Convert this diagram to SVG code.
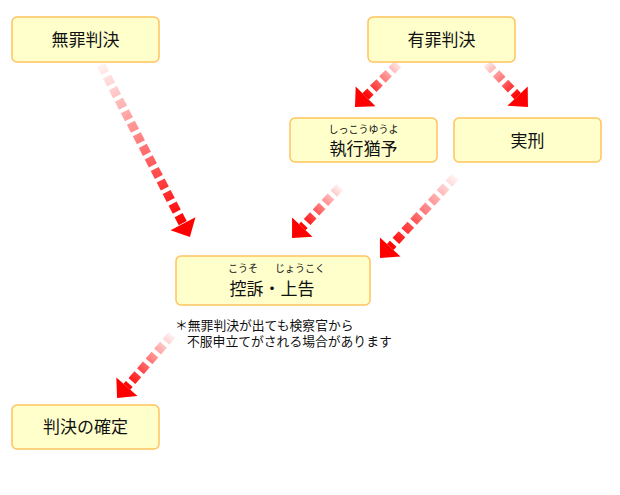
<svg xmlns="http://www.w3.org/2000/svg" width="620" height="495" viewBox="0 0 620 495">
<style>
.box{fill:#ffffcc;stroke:#ffc35e;stroke-width:1.5}
.lbl{font-family:"Noto Sans CJK JP","Noto Sans",sans-serif;font-size:17px;fill:#111;text-anchor:middle}
.rb{font-family:"Noto Sans CJK JP","Noto Sans",sans-serif;font-size:10px;fill:#111;text-anchor:middle}
.note{font-family:"Noto Sans CJK JP","Noto Sans",sans-serif;font-size:12.8px;fill:#111}
.arr{fill:none;stroke-width:9;stroke-dasharray:9 4;marker-end:url(#ah)}
</style>
<defs>
<marker id="ah" markerUnits="userSpaceOnUse" markerWidth="16" markerHeight="30" viewBox="0 -15 16 30" refX="0" refY="0" orient="auto" overflow="visible">
<path d="M0,-14 L15,0 L0,14 z" fill="#ff0000"/>
</marker>
<linearGradient id="g1" gradientUnits="userSpaceOnUse" x1="101" y1="65" x2="183" y2="223.7"><stop offset="0" stop-color="#ff0000" stop-opacity="0.05"/><stop offset="1" stop-color="#ff0000" stop-opacity="1"/></linearGradient>
<linearGradient id="g2" gradientUnits="userSpaceOnUse" x1="398" y1="64" x2="365.6" y2="96.4"><stop offset="0" stop-color="#ff0000" stop-opacity="0.1"/><stop offset="1" stop-color="#ff0000" stop-opacity="1"/></linearGradient>
<linearGradient id="g3" gradientUnits="userSpaceOnUse" x1="487" y1="64" x2="517.6" y2="96.1"><stop offset="0" stop-color="#ff0000" stop-opacity="0.1"/><stop offset="1" stop-color="#ff0000" stop-opacity="1"/></linearGradient>
<linearGradient id="g4" gradientUnits="userSpaceOnUse" x1="340" y1="187" x2="302.3" y2="227.1"><stop offset="0" stop-color="#ff0000" stop-opacity="0.05"/><stop offset="1" stop-color="#ff0000" stop-opacity="1"/></linearGradient>
<linearGradient id="g5" gradientUnits="userSpaceOnUse" x1="455" y1="177" x2="390.2" y2="247"><stop offset="0" stop-color="#ff0000" stop-opacity="0.05"/><stop offset="1" stop-color="#ff0000" stop-opacity="1"/></linearGradient>
<linearGradient id="g6" gradientUnits="userSpaceOnUse" x1="172" y1="335" x2="126.9" y2="386.7"><stop offset="0" stop-color="#ff0000" stop-opacity="0.05"/><stop offset="1" stop-color="#ff0000" stop-opacity="1"/></linearGradient>
</defs>
<rect width="620" height="495" fill="#fff"/>
<g id="connectors">
<line class="arr" x1="101" y1="65" x2="183" y2="223.7" stroke="url(#g1)"/>
<line class="arr" x1="398" y1="64" x2="365.6" y2="96.4" stroke="url(#g2)"/>
<line class="arr" x1="487" y1="64" x2="517.6" y2="96.1" stroke="url(#g3)"/>
<line class="arr" x1="340" y1="187" x2="302.3" y2="227.1" stroke="url(#g4)"/>
<line class="arr" x1="455" y1="177" x2="390.2" y2="247" stroke="url(#g5)"/>
<line class="arr" x1="172" y1="335" x2="126.9" y2="386.7" stroke="url(#g6)"/>
</g>
<g id="muzai"><rect class="box" x="12" y="17" width="147" height="45" rx="5"/><text class="lbl" x="85.5" y="46">無罪判決</text></g>
<g id="yuzai"><rect class="box" x="368" y="17" width="147" height="45" rx="5"/><text class="lbl" x="441.5" y="46">有罪判決</text></g>
<g id="shikkou"><rect class="box" x="290" y="118" width="147" height="44" rx="5"/><text class="rb" x="363.5" y="133">しっこうゆうよ</text><text class="lbl" x="363.5" y="155">執行猶予</text></g>
<g id="jikkei"><rect class="box" x="454" y="118" width="147" height="44" rx="5"/><text class="lbl" x="527.5" y="147">実刑</text></g>
<g id="kouso"><rect class="box" x="176" y="256" width="194" height="49" rx="5"/><text class="rb" x="243" y="272">こうそ</text><text class="rb" x="300" y="272">じょうこく</text><text class="lbl" x="272" y="295">控訴・上告</text></g>
<g id="kakutei"><rect class="box" x="12" y="405" width="147" height="44" rx="5"/><text class="lbl" x="85.5" y="433">判決の確定</text></g>
<g id="note"><text class="note" x="175" y="330">＊無罪判決が出ても検察官から</text><text class="note" x="187" y="346">不服申立てがされる場合があります</text></g>
</svg>
